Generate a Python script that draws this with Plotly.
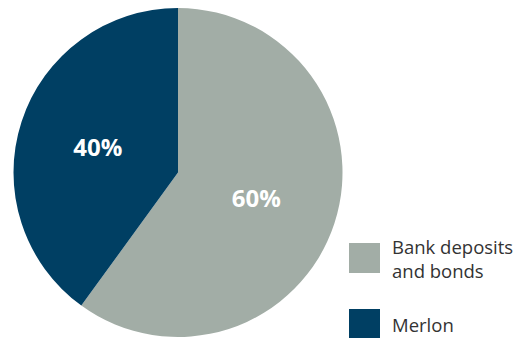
import plotly.graph_objects as go

categories = ["Bank deposits<br>and bonds", "Merlon"]
values = [60, 40]
colors = ["#a2ada6", "#003f63"]

W, H = 526, 338

fig = go.Figure()
fig.add_trace(go.Pie(
    labels=categories,
    values=values,
    sort=False,
    direction="clockwise",
    rotation=0,
    marker=dict(colors=colors, line=dict(width=0)),
    texttemplate="%{percent:.0%}",
    textposition="inside",
    insidetextorientation="horizontal",
    textfont=dict(family="Open Sans", size=24, color="white", weight="bold"),
    showlegend=False,
    hoverinfo="skip",
    domain=dict(x=[13 / W, 343 / W], y=[1 - 337 / H, 1 - 8 / H]),
))

# manual legend
legend_tops = [243, 309]
shapes = []
annotations = []
for cat, col, top in zip(categories, colors, legend_tops):
    shapes.append(dict(type="rect", xref="paper", yref="paper",
                       x0=349 / W, x1=380 / W, y0=1 - (top + 30) / H, y1=1 - top / H,
                       fillcolor=col, line=dict(width=0)))
    annotations.append(dict(xref="paper", yref="paper", x=390 / W, y=1 - (top + 15) / H,
                            text=cat, showarrow=False, xanchor="left", yanchor="middle",
                            align="left",
                            font=dict(family="Open Sans", size=18.5, color="#333333")))

fig.update_layout(
    width=W, height=H,
    margin=dict(l=0, r=0, t=0, b=0),
    paper_bgcolor="white", plot_bgcolor="white",
    shapes=shapes, annotations=annotations,
)

fig.write_html("out.html")
